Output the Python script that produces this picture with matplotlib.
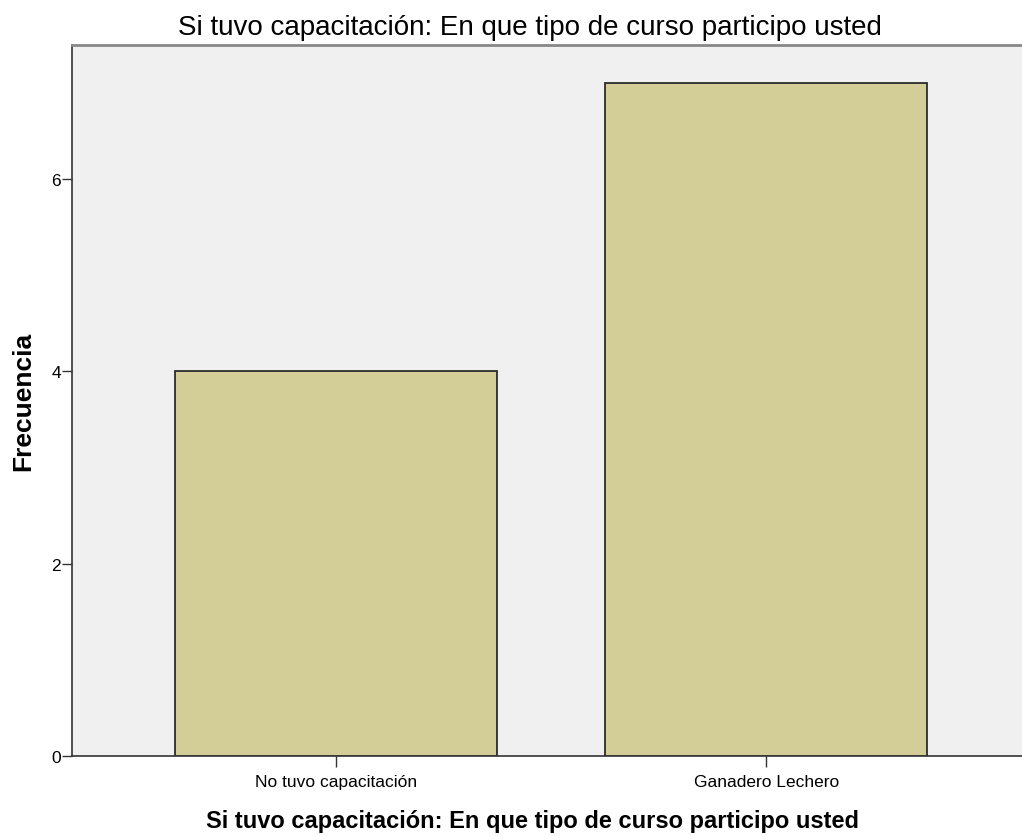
import matplotlib.pyplot as plt
import numpy as np

# datos del grafico de barras
categorias = ['No tuvo capacitación', 'Ganadero Lechero']
frecuencias = [4, 7]
ticks_y = [0, 2, 4, 6]
titulo = 'Si tuvo capacitación: En que tipo de curso participo usted'

plt.rcParams['font.family'] = ['Liberation Sans', 'DejaVu Sans']

fig = plt.figure(figsize=(10.22, 8.37), dpi=100)
ax = fig.add_axes([0.0705, 0.0956, 0.9295, 0.8494])
ax.set_facecolor('#F0F0F0')

x = np.arange(len(categorias))
ax.bar(x, frecuencias, width=0.75, color='#D3CE97', edgecolor='#2B2B2B', linewidth=1.3, zorder=3)

ax.set_xlim(-0.614, 1.595)
ax.set_ylim(0, 7.39)
ax.set_xticks(x)
ax.set_xticklabels(categorias, fontsize=12.5)
ax.set_yticks(ticks_y)
ax.set_yticklabels([str(t) for t in ticks_y], fontsize=12.5)
ax.tick_params(axis='x', length=8, width=1, color='#333333', pad=5)
ax.tick_params(axis='y', length=7, width=1, color='#333333', pad=1)

ax.spines['right'].set_visible(False)
ax.spines['top'].set_color('#888888')
ax.spines['top'].set_linewidth(2)
ax.spines['left'].set_color('#333333')
ax.spines['bottom'].set_color('#333333')
ax.spines['left'].set_linewidth(1.2)
ax.spines['bottom'].set_linewidth(1.2)

fig.text(530 / 1022, 1 - 35 / 837, titulo, ha='center', va='baseline', fontsize=20)
fig.text(532 / 1022, 1 - 828 / 837, titulo, ha='center', va='baseline', fontsize=17, fontweight='bold')
fig.text(23 / 1022, 1 - 401 / 837, 'Frecuencia', ha='center', va='center', rotation=90,
         fontsize=19, fontweight='bold')

fig.savefig('out.png', dpi=100)
